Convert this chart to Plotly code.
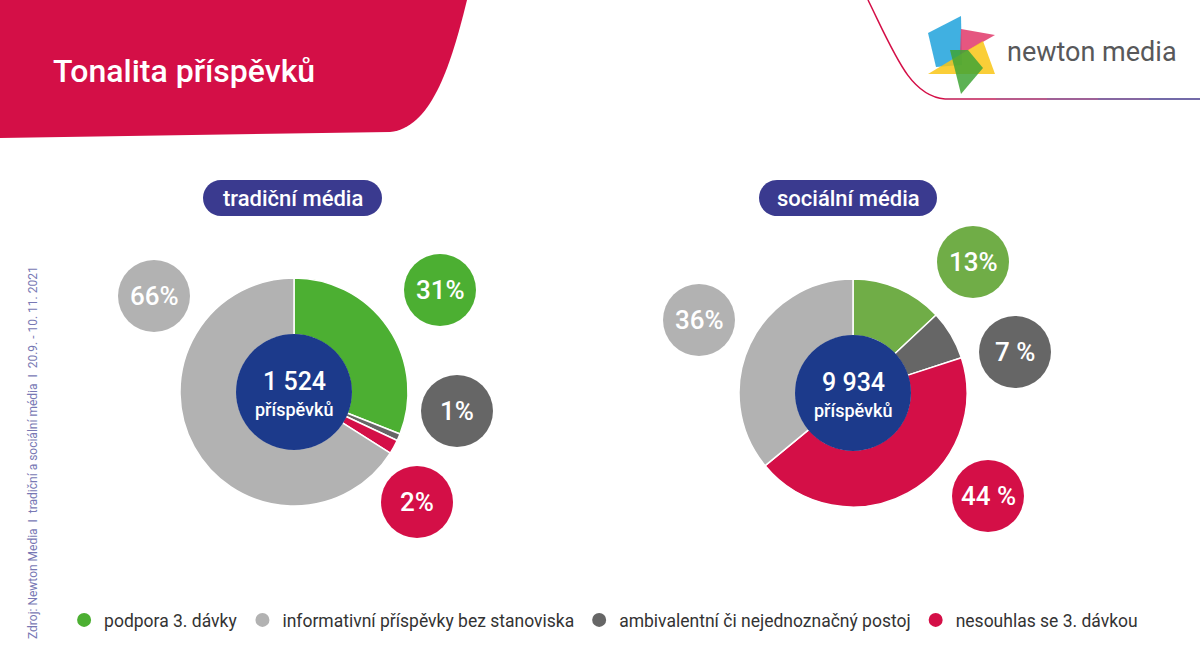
import plotly.graph_objects as go

# data
categories = [
    "podpora 3. dávky",
    "informativní příspěvky bez stanoviska",
    "ambivalentní či nejednoznačný postoj",
    "nesouhlas se 3. dávkou",
]
trad_pct = [31, 66, 1, 2]
soc_pct = [13, 36, 7, 44]
trad_labels = ["31%", "66%", "1%", "2%"]
soc_labels = ["13%", "36%", "7 %", "44 %"]
totals = ["1 524", "9 934"]
panel_titles = ["tradiční média", "sociální média"]
slice_order = [0, 2, 3, 1]  # clockwise from 12 o'clock

# styling / layout
trad_colors = ["#4caf32", "#b2b2b2", "#666666", "#d40f47"]
soc_colors = ["#70ad47", "#b2b2b2", "#666666", "#d40f47"]
crimson = "#d40f47"
indigo = "#3a3a8f"
navy = "#1c3a8b"
FONT = "Roboto"
W, H = 1200, 670

panels = [
    dict(cx=294, cy=392, r=114, pct=trad_pct, labels=trad_labels, colors=trad_colors,
         bubbles=[(440, 290), (154, 296), (457, 411), (417, 502)], pill=(203, 382)),
    dict(cx=853, cy=393, r=114, pct=soc_pct, labels=soc_labels, colors=soc_colors,
         bubbles=[(973, 262), (699, 320), (1015, 352), (988, 496)], pill=(759, 937)),
]

fig = go.Figure()
shapes = []
annotations = []


def rounded_rect(x0, x1, y0, y1):
    r = (y1 - y0) / 2
    k = r * 0.5523
    return (f"M {x0 + r},{y0} L {x1 - r},{y0} "
            f"C {x1 - r + k},{y0} {x1},{y0 + r - k} {x1},{y0 + r} "
            f"C {x1},{y0 + r + k} {x1 - r + k},{y1} {x1 - r},{y1} "
            f"L {x0 + r},{y1} "
            f"C {x0 + r - k},{y1} {x0},{y0 + r + k} {x0},{y0 + r} "
            f"C {x0},{y0 + r - k} {x0 + r - k},{y0} {x0 + r},{y0} Z")


for i, p in enumerate(panels):
    cx, cy, r = p["cx"], p["cy"], p["r"]
    fig.add_trace(go.Pie(
        labels=[categories[j] for j in slice_order],
        values=[p["pct"][j] for j in slice_order],
        marker=dict(colors=[p["colors"][j] for j in slice_order],
                    line=dict(color="white", width=1.5)),
        sort=False, direction="clockwise", rotation=0, hole=0.5,
        textinfo="none", showlegend=False,
        domain=dict(x=[(cx - r) / W, (cx + r) / W],
                    y=[(H - cy - r) / H, (H - cy + r) / H]),
    ))
    # centre disc
    shapes.append(dict(type="circle", xref="x", yref="y",
                       x0=cx - 58, x1=cx + 58, y0=cy - 58, y1=cy + 58,
                       fillcolor=navy, line=dict(width=0)))
    annotations.append(dict(x=cx, y=cy - 11, text=totals[i], showarrow=False,
                            font=dict(family=FONT, size=25, color="white", weight=500)))
    annotations.append(dict(x=cx, y=cy + 17, text="příspěvků", showarrow=False,
                            font=dict(family=FONT, size=18, color="white", weight=500)))
    # percentage bubbles
    for j, (bx, by) in enumerate(p["bubbles"]):
        shapes.append(dict(type="circle", xref="x", yref="y",
                           x0=bx - 36, x1=bx + 36, y0=by - 36, y1=by + 36,
                           fillcolor=p["colors"][j], line=dict(width=0)))
        annotations.append(dict(x=bx, y=by, text=p["labels"][j], showarrow=False,
                                font=dict(family=FONT, size=26, color="white", weight=500)))
    # pill title
    px0, px1 = p["pill"]
    shapes.append(dict(type="path", xref="x", yref="y",
                       path=rounded_rect(px0, px1, 180, 216),
                       fillcolor=indigo, line=dict(width=0)))
    annotations.append(dict(x=(px0 + px1) / 2, y=198, text=panel_titles[i], showarrow=False,
                            font=dict(family=FONT, size=22, color="white", weight=500)))

# legend entries
for j, name in enumerate(categories):
    fig.add_trace(go.Scatter(x=[None], y=[None], mode="markers", name=name,
                             marker=dict(size=14, color=trad_colors[j], symbol="circle")))

# header banner
shapes.append(dict(type="path", xref="x", yref="y", layer="below",
                   path="M 0,0 L 467,0 C 450,70 430,128 390,132 L 0,138 Z",
                   fillcolor=crimson, line=dict(width=0)))
annotations.append(dict(x=51, y=71, xanchor="left", text="Tonalita příspěvků", showarrow=False,
                        font=dict(family=FONT, size=32, color="white", weight=500)))

# decorative line top right
shapes.append(dict(type="path", xref="x", yref="y",
                   path="M 868,0 C 895,55 910,96 945,99", line=dict(color=crimson, width=1.5)))
line_cols = ["#c01a55", "#a02465", "#7f2d75", "#5e3482", "#45388b"]
xs = [945, 996, 1047, 1098, 1149, 1200]
for k, c in enumerate(line_cols):
    shapes.append(dict(type="line", xref="x", yref="y", x0=xs[k], x1=xs[k + 1],
                       y0=99, y1=99, line=dict(color=c, width=1.5)))

# logo
logo = [
    ("M 928,33 L 961,16 L 962,65 L 936,67 Z", "#1ea2dc"),
    ("M 961,29 L 995,35 L 960,55 Z", "#e0386a"),
    ("M 928,74 L 995,74 L 983,41 Z", "#f9c515"),
    ("M 950,50 L 968,50 L 983,68 L 961,94 Z", "#3fa535"),
]
for path, col in logo:
    shapes.append(dict(type="path", xref="x", yref="y", path=path,
                       fillcolor=col, opacity=0.85, line=dict(width=0)))
annotations.append(dict(x=1005, y=52, xanchor="left", text="newton media", showarrow=False,
                        font=dict(family=FONT, size=27, color="#58585a")))

# source note
annotations.append(dict(x=33, y=453, textangle=-90, showarrow=False,
                        text="Zdroj: Newton Media  I  tradiční a sociální média  I  20.9. - 10. 11. 2021",
                        font=dict(family=FONT, size=12, color="#7878b4")))

fig.update_layout(
    width=W, height=H,
    margin=dict(l=0, r=0, t=0, b=0),
    paper_bgcolor="white", plot_bgcolor="white",
    xaxis=dict(range=[0, W], visible=False, fixedrange=True),
    yaxis=dict(range=[H, 0], visible=False, fixedrange=True),
    shapes=shapes, annotations=annotations,
    showlegend=True,
    legend=dict(orientation="h", x=0.503, xanchor="center", y=1 - 620 / H, yanchor="middle",
                font=dict(family=FONT, size=17.5, color="#333333")),
)

fig.write_html("out.html", config={"displayModeBar": False},
               post_script="document.body.style.margin='0';")
